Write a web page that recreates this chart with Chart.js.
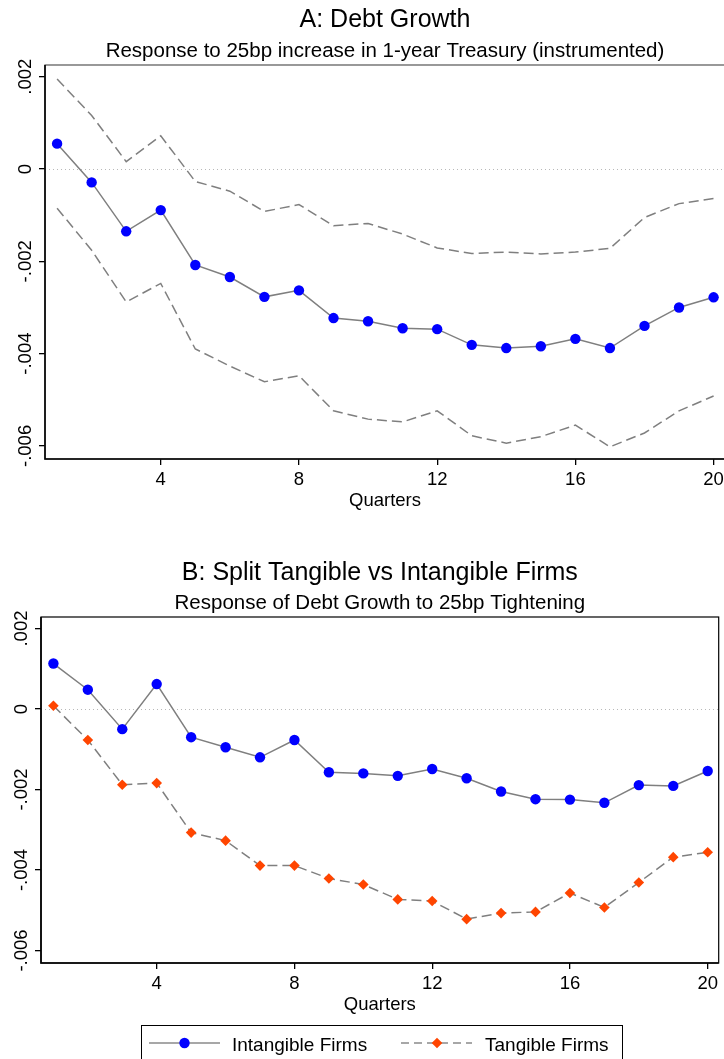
<!DOCTYPE html>
<html lang="en">
<head>
<meta charset="UTF-8">
<script src="https://cdn.jsdelivr.net/npm/chart.js"></script>
<title>Debt Growth Response</title>
<style>
  html, body { margin: 0; padding: 0; background: #fff; overflow: hidden; width: 724px; height: 1059px; }
  canvas { position: absolute; left: 0; }
  #chartA { top: 0; width: 740px; height: 530px; }
  #chartB { top: 530px; width: 724px; height: 529px; }
</style>
</head>
<body>
<canvas id="chartA" width="740" height="530"></canvas>
<canvas id="chartB" width="724" height="529"></canvas>
<script>
// quarters after the shock
const quarters = [1, 2, 3, 4, 5, 6, 7, 8, 9, 10, 11, 12, 13, 14, 15, 16, 17, 18, 19, 20];

// panel A: debt growth response with confidence band
const debtPoint = [0.00055, -0.00029, -0.00135, -0.00089, -0.00208, -0.00234, -0.00277, -0.00263, -0.00323, -0.00330,
                   -0.00345, -0.00347, -0.00381, -0.00388, -0.00384, -0.00368, -0.00388, -0.00340, -0.00300, -0.00278];
const debtUpper = [0.00195, 0.00116, 0.00016, 0.00072, -0.00027, -0.00048, -0.00092, -0.00077, -0.00123, -0.00118,
                   -0.00141, -0.00171, -0.00183, -0.00180, -0.00184, -0.00180, -0.00172, -0.00105, -0.00075, -0.00064];
const debtLower = [-0.00085, -0.00176, -0.00288, -0.00248, -0.00390, -0.00427, -0.00461, -0.00448, -0.00524, -0.00542,
                   -0.00548, -0.00524, -0.00578, -0.00594, -0.00580, -0.00555, -0.00602, -0.00572, -0.00524, -0.00492];

// panel B: split by firm type
const intangible = [0.00113, 0.00048, -0.00050, 0.00062, -0.00070, -0.00095, -0.00120, -0.00077, -0.00157, -0.00160,
                    -0.00166, -0.00149, -0.00172, -0.00205, -0.00224, -0.00225, -0.00233, -0.00189, -0.00191, -0.00154];
const tangible = [0.00008, -0.00077, -0.00188, -0.00184, -0.00307, -0.00327, -0.00389, -0.00389, -0.00421, -0.00436,
                  -0.00473, -0.00477, -0.00522, -0.00507, -0.00504, -0.00457, -0.00493, -0.00431, -0.00368, -0.00356];

const xTicks = [4, 8, 12, 16, 20];
const yTicks = [0.002, 0, -0.002, -0.004, -0.006];
const yTickLabels = ['.002', '0', '-.002', '-.004', '-.006'];

const FONT = "'Liberation Sans', Arial, Helvetica, sans-serif";
const GRAY = '#7f7f7f';
const BLUE = '#0000ff';
const ORANGE = '#ff4500';
const DASH = [10, 5];

const pts = vals => vals.map((v, i) => ({ x: quarters[i], y: v }));

// titles, frame, zero line, rotated y labels and the legend box
const decor = {
  id: 'decor',
  beforeDatasetsDraw(chart) {
    const { ctx, chartArea: a, scales: { y } } = chart;
    const y0 = Math.round(y.getPixelForValue(0)) + 0.5;
    ctx.save();
    ctx.strokeStyle = '#b8b8b8';
    ctx.lineWidth = 1;
    ctx.setLineDash([1, 3]);
    ctx.beginPath();
    ctx.moveTo(a.left, y0);
    ctx.lineTo(a.right, y0);
    ctx.stroke();
    ctx.restore();
  },
  afterDraw(chart, args, opts) {
    const { ctx, chartArea: a, scales: { y } } = chart;
    ctx.save();
    ctx.strokeStyle = opts.frameColor;
    ctx.lineWidth = 1.2;
    ctx.strokeRect(a.left, a.top, a.right - a.left, a.bottom - a.top);
    ctx.strokeStyle = '#000';
    ctx.lineWidth = 1.6;
    ctx.beginPath();
    ctx.moveTo(a.left, a.top);
    ctx.lineTo(a.left, a.bottom);
    ctx.lineTo(a.right, a.bottom);
    ctx.stroke();

    const cx = (a.left + a.right) / 2;
    ctx.fillStyle = '#000';
    ctx.textAlign = 'center';
    ctx.textBaseline = 'alphabetic';
    ctx.font = `25px ${FONT}`;
    ctx.fillText(opts.title, cx, opts.titleY);
    ctx.font = `20.5px ${FONT}`;
    ctx.fillText(opts.subtitle, cx, opts.subtitleY);
    ctx.font = `18.5px ${FONT}`;
    ctx.fillText('Quarters', cx, a.bottom + 47);

    yTicks.forEach((v, i) => {
      ctx.save();
      ctx.translate(a.left - 14.5, y.getPixelForValue(v));
      ctx.rotate(-Math.PI / 2);
      ctx.fillText(yTickLabels[i], 0, 0);
      ctx.restore();
    });

    if (opts.legend) {
      const ly = 513;
      ctx.strokeStyle = '#000';
      ctx.lineWidth = 1;
      ctx.strokeRect(141.5, 495.5, 481, 60);
      ctx.strokeStyle = '#8a8a8a';
      ctx.lineWidth = 1.5;
      ctx.beginPath();
      ctx.moveTo(149, ly);
      ctx.lineTo(220, ly);
      ctx.stroke();
      ctx.setLineDash([8, 5]);
      ctx.beginPath();
      ctx.moveTo(401, ly);
      ctx.lineTo(472, ly);
      ctx.stroke();
      ctx.setLineDash([]);
      ctx.fillStyle = BLUE;
      ctx.beginPath();
      ctx.arc(184.5, ly, 5.2, 0, Math.PI * 2);
      ctx.fill();
      ctx.fillStyle = ORANGE;
      ctx.beginPath();
      ctx.moveTo(437, ly - 5.3);
      ctx.lineTo(442.3, ly);
      ctx.lineTo(437, ly + 5.3);
      ctx.lineTo(431.7, ly);
      ctx.closePath();
      ctx.fill();
      ctx.fillStyle = '#000';
      ctx.textAlign = 'left';
      ctx.font = `19px ${FONT}`;
      ctx.fillText('Intangible Firms', 232, 521);
      ctx.fillText('Tangible Firms', 485, 521);
    }
    ctx.restore();
  }
};

function axes(xMin, xMax, yMin, yMax, xHeight, yWidth) {
  const tickGrid = { drawOnChartArea: false, drawTicks: true, tickLength: 6, color: '#000', lineWidth: 1.3 };
  return {
    x: {
      type: 'linear', min: xMin, max: xMax,
      afterBuildTicks: s => { s.ticks = xTicks.map(v => ({ value: v })); },
      afterFit: s => { s.height = xHeight; },
      grid: tickGrid, border: { display: false },
      ticks: { font: { family: FONT, size: 18.5 }, color: '#000', padding: 4, maxRotation: 0, autoSkip: false,
               callback: v => String(v) }
    },
    y: {
      type: 'linear', min: yMin, max: yMax,
      afterBuildTicks: s => { s.ticks = yTicks.map(v => ({ value: v })); },
      afterFit: s => { s.width = yWidth; },
      grid: tickGrid, border: { display: false },
      ticks: { display: false }
    }
  };
}

const chartA = new Chart(document.getElementById('chartA'), {
  type: 'line',
  data: {
    datasets: [
      { data: pts(debtUpper), borderColor: GRAY, borderWidth: 1.5, borderDash: DASH, pointRadius: 0 },
      { data: pts(debtLower), borderColor: GRAY, borderWidth: 1.5, borderDash: DASH, pointRadius: 0 },
      { data: pts(debtPoint), borderColor: GRAY, borderWidth: 1.5, pointRadius: 5.2,
        pointBackgroundColor: BLUE, pointBorderWidth: 0 }
    ]
  },
  options: {
    responsive: false, animation: false,
    layout: { padding: { left: 0, right: 15, top: 65, bottom: 0 } },
    plugins: {
      legend: { display: false }, tooltip: { enabled: false },
      decor: { title: 'A: Debt Growth', subtitle: 'Response to 25bp increase in 1-year Treasury (instrumented)',
               titleY: 27, subtitleY: 57, frameColor: '#555' }
    },
    scales: axes(0.65, 20.33, -0.006284, 0.002254, 71, 45)
  },
  plugins: [decor]
});

const chartB = new Chart(document.getElementById('chartB'), {
  type: 'line',
  data: {
    datasets: [
      { data: pts(tangible), borderColor: GRAY, borderWidth: 1.5, borderDash: DASH, pointRadius: 5.3,
        pointStyle: 'rectRot', pointBackgroundColor: ORANGE, pointBorderWidth: 0 },
      { data: pts(intangible), borderColor: GRAY, borderWidth: 1.5, pointRadius: 5.2,
        pointBackgroundColor: BLUE, pointBorderWidth: 0 }
    ]
  },
  options: {
    responsive: false, animation: false,
    layout: { padding: { left: 0, right: 3, top: 87, bottom: 0 } },
    plugins: {
      legend: { display: false }, tooltip: { enabled: false },
      decor: { title: 'B: Split Tangible vs Intangible Firms', subtitle: 'Response of Debt Growth to 25bp Tightening',
               titleY: 50, subtitleY: 79, frameColor: '#000', legend: true }
    },
    scales: axes(0.64, 20.32, -0.00631, 0.002286, 96, 41)
  },
  plugins: [decor]
});
</script>
</body>
</html>
